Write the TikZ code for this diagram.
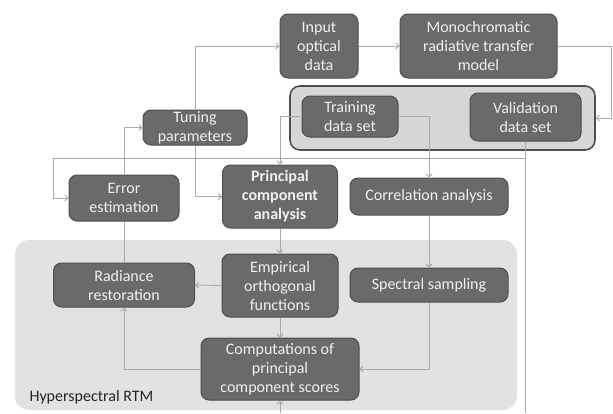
\documentclass[tikz,border=0pt]{standalone}
\usepackage{fontspec}
\setmainfont{Carlito}
\usetikzlibrary{arrows.meta}
\definecolor{boxgray}{RGB}{106,106,106}
\definecolor{boxline}{RGB}{78,78,78}
\definecolor{linkgray}{RGB}{170,170,170}
\definecolor{pale}{RGB}{226,226,226}
\definecolor{setgray}{RGB}{214,214,214}

\begin{document}
\begin{tikzpicture}[x=1pt,y=-1pt,
        box/.style={draw=boxline,line width=1pt,fill=boxgray,rounded corners=8pt,
            text=white!94!black,align=center,inner sep=1pt,
            font=\fontsize{16}{19}\selectfont},
        link/.style={draw=linkgray,line width=0.9pt},
        arr/.style={link,-{Straight Barb[length=3pt,width=6pt]}}]
        \useasboundingbox (0,0) rectangle (613,413);
        \fill[pale,rounded corners=14pt] (15,240) rectangle (517,410);
        \node[anchor=west,font=\fontsize{16}{19}\selectfont,text=black!85] (rtm) at (26,397) {Hyperspectral RTM};
        \node[draw=boxline,line width=1.6pt,fill=setgray,rounded corners=10pt,minimum width=305pt,minimum height=64pt] (data) at (442.5,118) {};
        % boxes
        \node[box,minimum width=78pt,minimum height=64pt] (inp) at (319,46) {Input\\optical\\data};
        \node[box,minimum width=157pt,minimum height=64pt] (mono) at (478.5,46) {Monochromatic\\radiative transfer\\model};
        \node[box,minimum width=96pt,minimum height=41pt] (train) at (350,116.5) {Training\\data set};
        \node[box,minimum width=111pt,minimum height=48pt] (valid) at (525.5,117) {Validation\\data set};
        \node[box,minimum width=104pt,minimum height=35pt] (tune) at (195,127.5) {Tuning\\parameters};
        \node[box,minimum width=110pt,minimum height=46pt] (err) at (124,198) {Error\\estimation};
        \node[box,minimum width=115pt,minimum height=63pt,font=\fontsize{16}{19}\selectfont\bfseries] (pca) at (280,196.5) {Principal\\component\\analysis};
        \node[box,minimum width=158pt,minimum height=37pt] (corr) at (429,196.5) {Correlation analysis};
        \node[box,minimum width=141pt,minimum height=44pt] (rad) at (124,285) {Radiance\\restoration};
        \node[box,minimum width=116pt,minimum height=63pt] (eof) at (280,285.5) {Empirical\\orthogonal\\functions};
        \node[box,minimum width=158pt,minimum height=34pt] (spec) at (429,285) {Spectral sampling};
        \node[box,minimum width=158pt,minimum height=62pt] (comp) at (280,369) {Computations of\\principal\\component scores};
        \coordinate (loop) at (53,158);
        \coordinate (edge) at (611,413);
        % links
        \draw[arr] (tune.north) |- (inp.west);
        \draw[arr] (tune.south) |- (pca.west);
        \draw[arr] (err.north) |- (tune.west);
        \draw[arr] (inp.east) -- (inp.east -| mono.west);
        \draw[arr] (mono.east) -- (mono.east -| edge) |- (data.east);
        \draw[arr] (train.west) -| (pca.north);
        \draw[arr] (train.east) -| (corr.north);
        \draw[arr] (valid.south |- loop) -- (loop) |- (err.west);
        \draw[link] (valid.south) -- (valid.south |- edge);
        \draw[arr] (corr.south) -- (spec.north);
        \draw[arr] (spec.south) |- (comp.east);
        \draw[arr] (pca.south) -- (eof.north);
        \draw[arr] (eof.south) -- (comp.north);
        \draw[arr] (eof.west) -- (rad.east);
        \draw[arr] (comp.west) -| (rad.south);
        \draw[link] (rad.north) -- (err.south);
        \draw[arr] (comp.south |- edge) -- (comp.south);
\end{tikzpicture}
\end{document}
